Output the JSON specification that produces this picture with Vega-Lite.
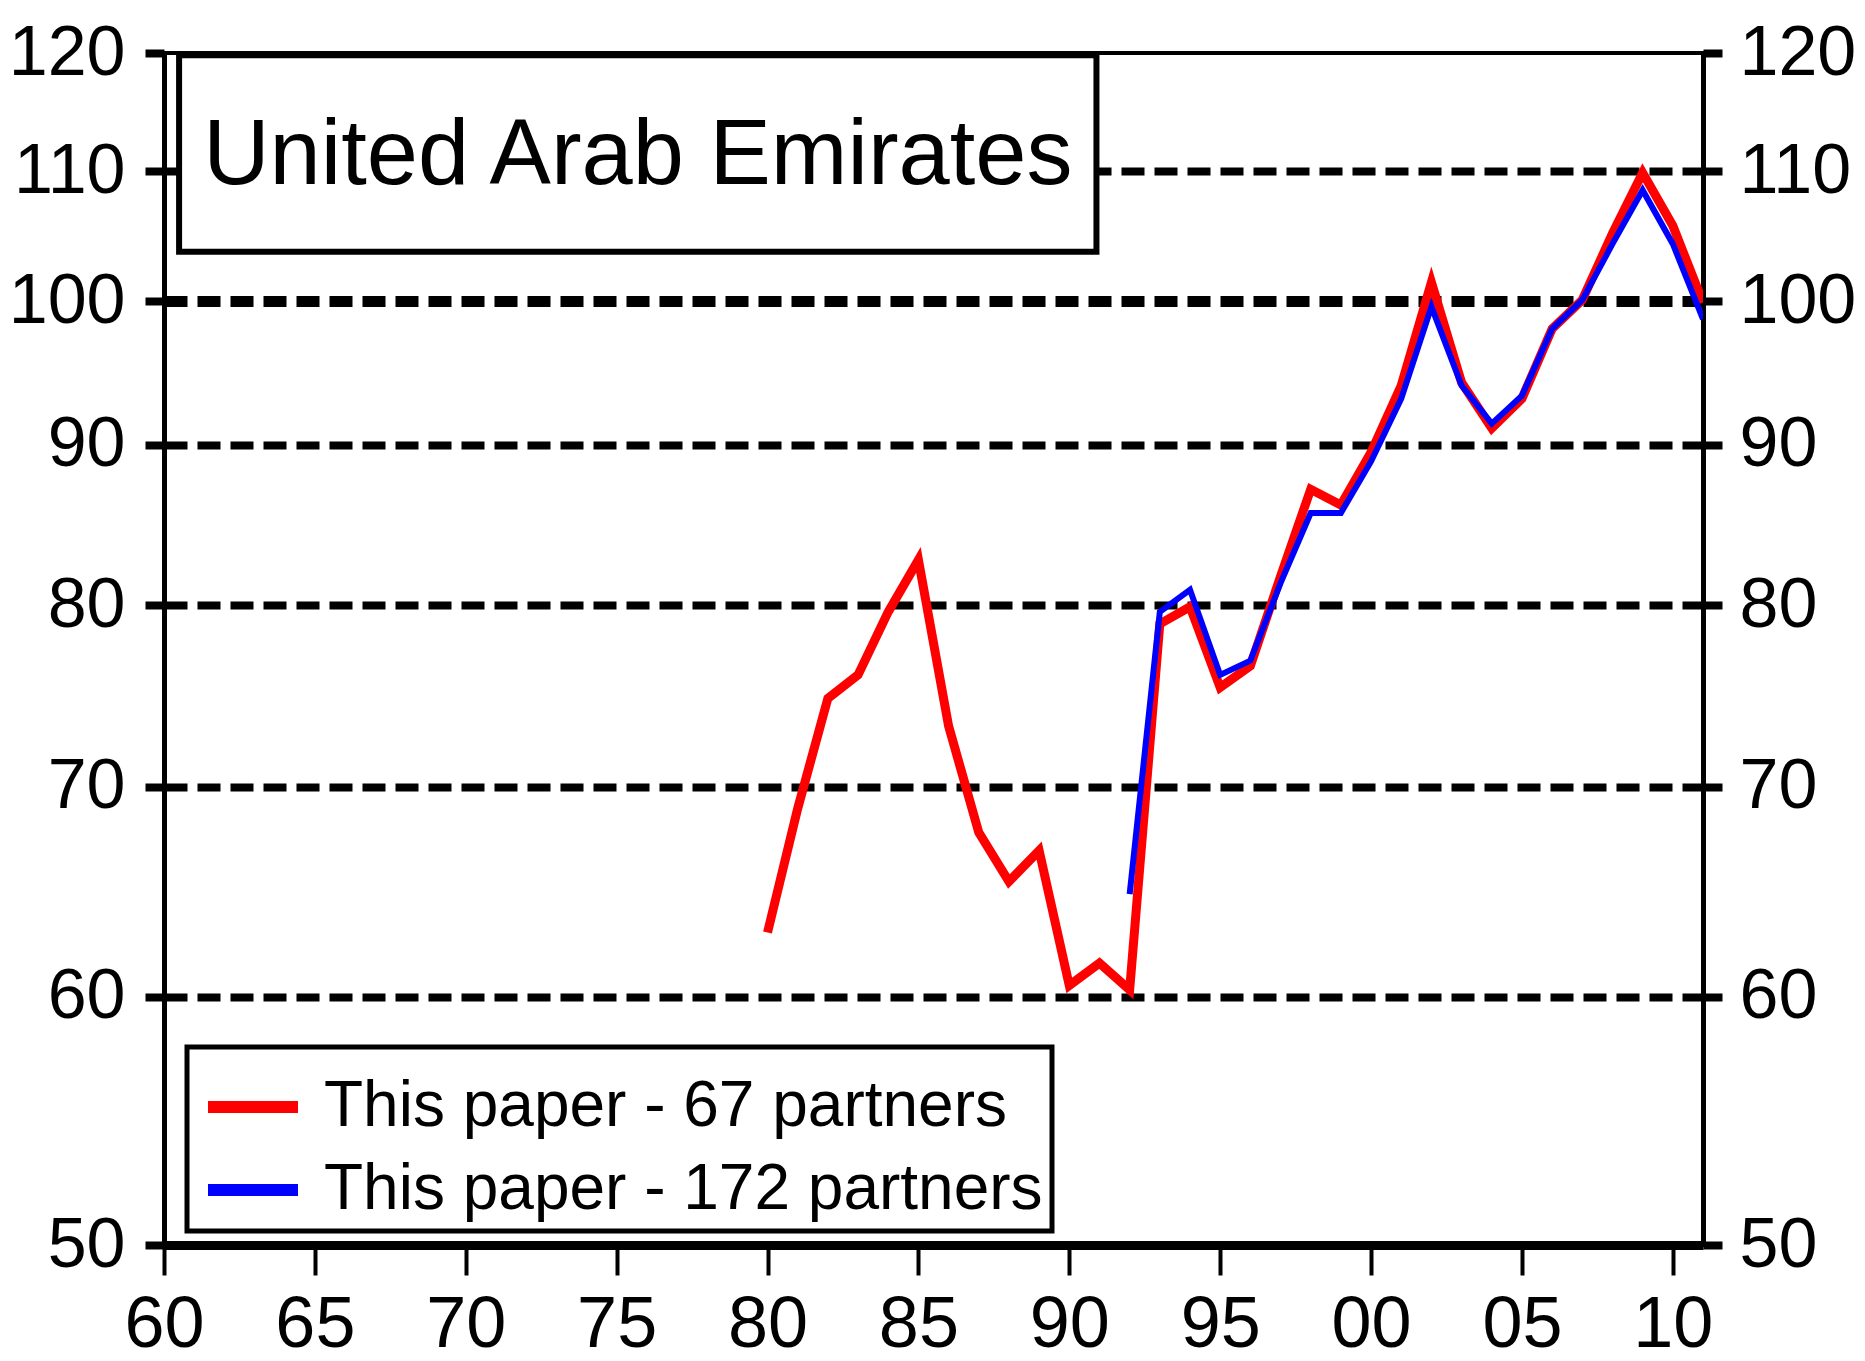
{
  "$schema": "https://vega.github.io/schema/vega-lite/v6.json",
  "width": 1539,
  "height": 1192,
  "autosize": "none",
  "padding": {"left": 164, "top": 53, "right": 162, "bottom": 116},
  "background": "white",
  "config": {
    "view": {"stroke": "black", "strokeWidth": 4},
    "font": "Liberation Sans, Arial, sans-serif",
    "axis": {
      "labelFont": "Liberation Sans, Arial, sans-serif",
      "labelColor": "black",
      "tickColor": "black",
      "domainColor": "black",
      "labelOverlap": false,
      "labelBound": false,
      "labelFlush": false,
      "title": null
    }
  },
  "datasets": {
    "series": [
      {"year": 1980, "value": 62.9, "series": "This paper - 67 partners"},
      {"year": 1981, "value": 68.9, "series": "This paper - 67 partners"},
      {"year": 1982, "value": 74.7, "series": "This paper - 67 partners"},
      {"year": 1983, "value": 76.0, "series": "This paper - 67 partners"},
      {"year": 1984, "value": 79.6, "series": "This paper - 67 partners"},
      {"year": 1985, "value": 82.7, "series": "This paper - 67 partners"},
      {"year": 1986, "value": 73.2, "series": "This paper - 67 partners"},
      {"year": 1987, "value": 67.7, "series": "This paper - 67 partners"},
      {"year": 1988, "value": 65.3, "series": "This paper - 67 partners"},
      {"year": 1989, "value": 66.8, "series": "This paper - 67 partners"},
      {"year": 1990, "value": 60.5, "series": "This paper - 67 partners"},
      {"year": 1991, "value": 61.5, "series": "This paper - 67 partners"},
      {"year": 1992, "value": 60.3, "series": "This paper - 67 partners"},
      {"year": 1993, "value": 78.9, "series": "This paper - 67 partners"},
      {"year": 1994, "value": 79.9, "series": "This paper - 67 partners"},
      {"year": 1995, "value": 75.3, "series": "This paper - 67 partners"},
      {"year": 1996, "value": 76.5, "series": "This paper - 67 partners"},
      {"year": 1997, "value": 81.7, "series": "This paper - 67 partners"},
      {"year": 1998, "value": 87.1, "series": "This paper - 67 partners"},
      {"year": 1999, "value": 86.1, "series": "This paper - 67 partners"},
      {"year": 2000, "value": 89.5, "series": "This paper - 67 partners"},
      {"year": 2001, "value": 94.0, "series": "This paper - 67 partners"},
      {"year": 2002, "value": 101.4, "series": "This paper - 67 partners"},
      {"year": 2003, "value": 94.2, "series": "This paper - 67 partners"},
      {"year": 2004, "value": 91.1, "series": "This paper - 67 partners"},
      {"year": 2005, "value": 93.1, "series": "This paper - 67 partners"},
      {"year": 2006, "value": 98.0, "series": "This paper - 67 partners"},
      {"year": 2007, "value": 100.1, "series": "This paper - 67 partners"},
      {"year": 2008, "value": 105.1, "series": "This paper - 67 partners"},
      {"year": 2009, "value": 109.9, "series": "This paper - 67 partners"},
      {"year": 2010, "value": 105.7, "series": "This paper - 67 partners"},
      {"year": 2011, "value": 99.9, "series": "This paper - 67 partners"},
      {"year": 1992, "value": 64.7, "series": "This paper - 172 partners"},
      {"year": 1993, "value": 79.6, "series": "This paper - 172 partners"},
      {"year": 1994, "value": 80.9, "series": "This paper - 172 partners"},
      {"year": 1995, "value": 76.0, "series": "This paper - 172 partners"},
      {"year": 1996, "value": 76.8, "series": "This paper - 172 partners"},
      {"year": 1997, "value": 81.3, "series": "This paper - 172 partners"},
      {"year": 1998, "value": 85.6, "series": "This paper - 172 partners"},
      {"year": 1999, "value": 85.6, "series": "This paper - 172 partners"},
      {"year": 2000, "value": 88.9, "series": "This paper - 172 partners"},
      {"year": 2001, "value": 93.1, "series": "This paper - 172 partners"},
      {"year": 2002, "value": 99.6, "series": "This paper - 172 partners"},
      {"year": 2003, "value": 94.0, "series": "This paper - 172 partners"},
      {"year": 2004, "value": 91.4, "series": "This paper - 172 partners"},
      {"year": 2005, "value": 93.3, "series": "This paper - 172 partners"},
      {"year": 2006, "value": 98.0, "series": "This paper - 172 partners"},
      {"year": 2007, "value": 100.1, "series": "This paper - 172 partners"},
      {"year": 2008, "value": 104.3, "series": "This paper - 172 partners"},
      {"year": 2009, "value": 108.5, "series": "This paper - 172 partners"},
      {"year": 2010, "value": 104.3, "series": "This paper - 172 partners"},
      {"year": 2011, "value": 98.7, "series": "This paper - 172 partners"}
    ]
  },
  "data": {"name": "series"},
  "layer": [
    {
      "transform": [{"filter": "datum.series === 'This paper - 67 partners'"}],
      "mark": {"type": "line", "strokeWidth": 9, "clip": true},
      "encoding": {
        "x": {
          "field": "year", "type": "quantitative",
          "scale": {"domain": [1960, 2011], "nice": false, "zero": false},
          "axis": {
            "orient": "bottom",
            "values": [1960, 1965, 1970, 1975, 1980, 1985, 1990, 1995, 2000, 2005, 2010],
            "labelExpr": "substring(format(datum.value, 'd'), 2, 4)",
            "tickSize": 30, "tickWidth": 4, "domainWidth": 9,
            "labelFontSize": 72, "labelPadding": 14, "grid": false
          }
        },
        "y": {
          "field": "value", "type": "quantitative",
          "scale": {"type": "log", "domain": [50, 120], "nice": false, "zero": false},
          "axis": {
            "orient": "left",
            "values": [50, 60, 70, 80, 90, 100, 110, 120],
            "tickSize": 19, "tickWidth": 8, "domainWidth": 5,
            "labelFontSize": 70, "labelPadding": 20,
            "grid": true, "gridColor": "black", "gridDash": [23, 10],
            "gridWidth": {"condition": {"test": "datum.value === 100", "value": 11}, "value": 8},
            "gridOpacity": {"condition": {"test": "datum.value === 50 || datum.value === 120", "value": 0}, "value": 1}
          }
        },
        "color": {
          "field": "series", "type": "nominal",
          "scale": {"domain": ["This paper - 67 partners", "This paper - 172 partners"], "range": ["#ff0000", "#0000ff"]},
          "legend": {
            "orient": "none", "legendX": 23, "legendY": 994,
            "title": null,
            "symbolType": "stroke", "symbolSize": 8100, "symbolStrokeWidth": 12, "symbolOffset": 6,
            "labelFontSize": 64, "labelFont": "Liberation Sans, Arial, sans-serif",
            "labelColor": "black", "labelOffset": 20, "labelLimit": 0,
            "strokeColor": "black", "fillColor": "white",
            "padding": 9, "rowPadding": -18,
            "encode": {"legend": {"update": {"strokeWidth": {"value": 5}}}}
          }
        }
      }
    },
    {
      "transform": [{"filter": "datum.series === 'This paper - 172 partners'"}],
      "mark": {"type": "line", "strokeWidth": 6, "clip": true},
      "encoding": {
        "x": {"field": "year", "type": "quantitative"},
        "y": {
          "field": "value", "type": "quantitative",
          "axis": {
            "orient": "right",
            "values": [50, 60, 70, 80, 90, 100, 110, 120],
            "tickSize": 19, "tickWidth": 8, "domainWidth": 5,
            "labelFontSize": 70, "labelPadding": 17, "grid": false
          }
        },
        "color": {"field": "series", "type": "nominal"}
      }
    },
    {
      "data": {"values": [{"label": "United Arab Emirates"}]},
      "mark": {"type": "rect", "fill": "white", "stroke": "black", "strokeWidth": 6},
      "encoding": {
        "x": {"datum": 1960.5},
        "x2": {"datum": 1990.9},
        "y": {"datum": 119.8, "axis": null},
        "y2": {"datum": 103.7}
      }
    },
    {
      "data": {"values": [{"label": "United Arab Emirates"}]},
      "mark": {"type": "text", "fontSize": 92, "align": "center", "baseline": "alphabetic", "color": "black", "font": "Liberation Sans, Arial, sans-serif"},
      "encoding": {
        "x": {"datum": 1975.7},
        "y": {"datum": 109.0, "axis": null},
        "text": {"field": "label"}
      }
    }
  ],
  "resolve": {"axis": {"y": "independent"}}
}
